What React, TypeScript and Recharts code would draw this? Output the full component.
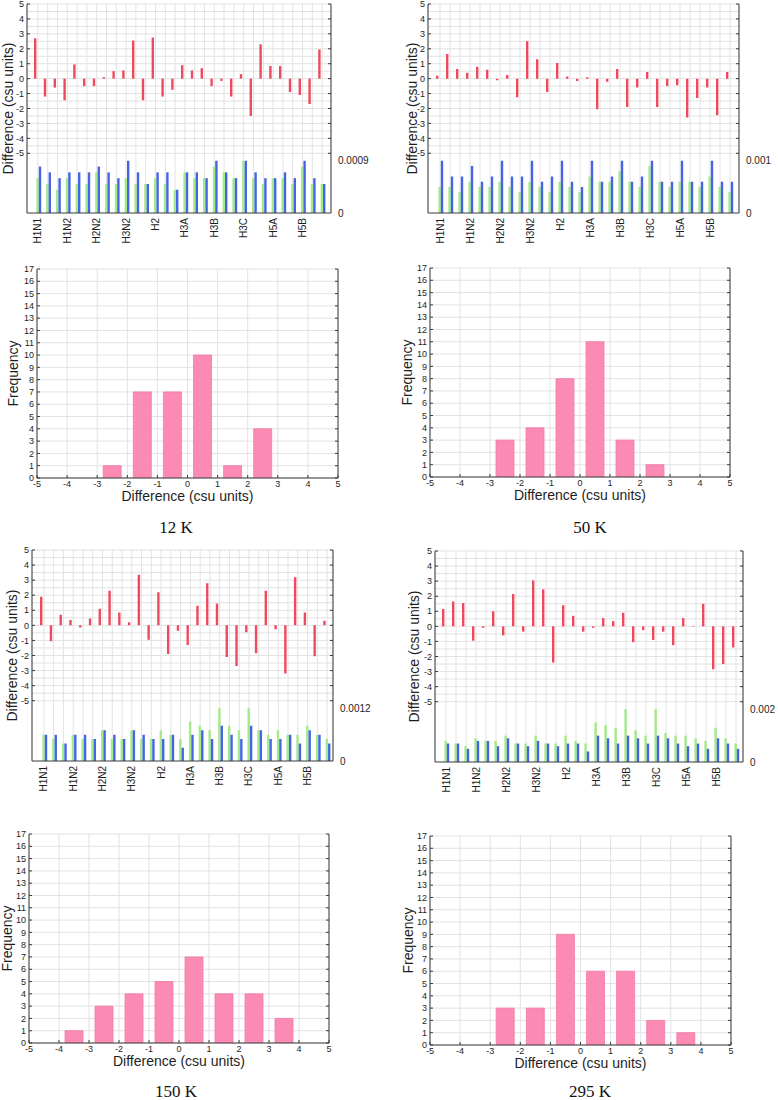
import React from 'react';
import { ComposedChart, BarChart, Bar, XAxis, YAxis, CartesianGrid } from 'recharts';

// ---------- data ----------
const siteLabels = [
  'H1N1', '', '', 'H1N2', '', '', 'H2N2', '', '', 'H3N2', '', '',
  'H2', '', '', 'H3A', '', '', 'H3B', '', '', 'H3C', '', '', 'H5A', '', '', 'H5B', '', '',
];

const diff12 = [2.7, -1.2, -0.6, -1.45, 0.95, -0.5, -0.5, 0.1, 0.5, 0.55, 2.55, -1.45, 2.75, -1.2, -0.75, 0.9, 0.55, 0.7, -0.5, -0.15, -1.2, 0.3, -2.5, 2.3, 0.85, 0.85, -0.9, -1.1, -1.7, 1.95];
const green12 = [6e-4, 5e-4, 4e-4, 6e-4, 5e-4, 5e-4, 7e-4, 5e-4, 5e-4, 6e-4, 5e-4, 5e-4, 6e-4, 5e-4, 4e-4, 7e-4, 6e-4, 6e-4, 8e-4, 7e-4, 6e-4, 9e-4, 6e-4, 5e-4, 6e-4, 6e-4, 5e-4, 8e-4, 5e-4, 5e-4];
const blue12 = [8e-4, 7e-4, 6e-4, 7e-4, 7e-4, 7e-4, 8e-4, 7e-4, 6e-4, 9e-4, 7e-4, 5e-4, 7e-4, 7e-4, 4e-4, 7e-4, 7e-4, 6e-4, 9e-4, 7e-4, 6e-4, 9e-4, 7e-4, 6e-4, 6e-4, 7e-4, 6e-4, 9e-4, 6e-4, 5e-4];

const diff50 = [0.2, 1.65, 0.65, 0.4, 0.8, 0.6, -0.1, 0.25, -1.25, 2.5, 1.3, -0.9, 1.05, 0.15, -0.15, 0.1, -2.05, -0.2, 0.65, -1.9, -0.6, 0.45, -1.9, -0.5, -0.45, -2.6, -1.3, -0.6, -2.45, 0.45];
const green50 = [5e-4, 5e-4, 4e-4, 6e-4, 5e-4, 5e-4, 6e-4, 5e-4, 4e-4, 6e-4, 5e-4, 4e-4, 6e-4, 5e-4, 4e-4, 7e-4, 6e-4, 6e-4, 8e-4, 6e-4, 5e-4, 9e-4, 6e-4, 5e-4, 6e-4, 6e-4, 5e-4, 7e-4, 5e-4, 4e-4];
const blue50 = [10e-4, 7e-4, 7e-4, 9e-4, 6e-4, 7e-4, 10e-4, 7e-4, 7e-4, 10e-4, 6e-4, 7e-4, 10e-4, 6e-4, 5e-4, 10e-4, 6e-4, 7e-4, 10e-4, 6e-4, 7e-4, 10e-4, 6e-4, 6e-4, 10e-4, 6e-4, 6e-4, 10e-4, 6e-4, 6e-4];

const diff150 = [1.9, -1.05, 0.7, 0.35, -0.15, 0.45, 1.1, 2.3, 0.85, 0.2, 3.35, -0.95, 2.2, -1.9, -0.35, -1.3, 1.3, 2.8, 1.45, -2.1, -2.7, -0.45, -1.85, 2.3, -0.25, -3.2, 3.2, 0.85, -2.05, 0.3];
const green150 = [6e-4, 5e-4, 4e-4, 6e-4, 5e-4, 5e-4, 7e-4, 5e-4, 5e-4, 7e-4, 5e-4, 5e-4, 7e-4, 6e-4, 5e-4, 9e-4, 8e-4, 7e-4, 12e-4, 8e-4, 7e-4, 12e-4, 7e-4, 6e-4, 7e-4, 6e-4, 6e-4, 8e-4, 6e-4, 5e-4];
const blue150 = [6e-4, 6e-4, 4e-4, 6e-4, 6e-4, 5e-4, 7e-4, 6e-4, 5e-4, 7e-4, 6e-4, 5e-4, 5e-4, 6e-4, 3e-4, 6e-4, 7e-4, 5e-4, 8e-4, 6e-4, 5e-4, 8e-4, 7e-4, 5e-4, 5e-4, 6e-4, 4e-4, 7e-4, 6e-4, 4e-4];

const diff295 = [1.15, 1.65, 1.55, -0.95, -0.1, 1.0, -0.6, 2.15, -0.35, 3.05, 2.45, -2.4, 1.4, 0.7, -0.35, -0.1, 0.55, 0.35, 0.9, -1.05, -0.25, -0.9, -0.35, -1.25, 0.55, 0.03, 1.5, -2.85, -2.5, -1.4];
const green295 = [8e-4, 7e-4, 6e-4, 9e-4, 8e-4, 8e-4, 10e-4, 7e-4, 7e-4, 10e-4, 7e-4, 7e-4, 10e-4, 8e-4, 7e-4, 15e-4, 14e-4, 13e-4, 20e-4, 12e-4, 10e-4, 20e-4, 11e-4, 10e-4, 10e-4, 9e-4, 8e-4, 13e-4, 9e-4, 7e-4];
const blue295 = [7e-4, 7e-4, 5e-4, 8e-4, 8e-4, 6e-4, 9e-4, 7e-4, 6e-4, 8e-4, 7e-4, 6e-4, 7e-4, 7e-4, 4e-4, 10e-4, 9e-4, 7e-4, 10e-4, 9e-4, 7e-4, 10e-4, 9e-4, 7e-4, 6e-4, 7e-4, 5e-4, 9e-4, 7e-4, 5e-4];

const binCenters = [-4.5, -3.5, -2.5, -1.5, -0.5, 0.5, 1.5, 2.5, 3.5, 4.5];
const hist12 = [0, 0, 1, 7, 7, 10, 1, 4, 0, 0];
const hist50 = [0, 0, 3, 4, 8, 11, 3, 1, 0, 0];
const hist150 = [0, 1, 3, 4, 5, 7, 4, 4, 2, 0];
const hist295 = [0, 0, 3, 3, 9, 6, 6, 2, 1, 0];

const diffTicks = [-5, -4, -3, -2, -1, 0, 1, 2, 3, 4, 5];
const gridTicks = [-5, -4.5, -4, -3.5, -3, -2.5, -2, -1.5, -1, -0.5, 0, 0.5, 1, 1.5, 2, 2.5, 3, 3.5, 4, 4.5, 5];
const histXTicks = [-5, -4, -3, -2, -1, 0, 1, 2, 3, 4, 5];
const freqTicks = [0, 1, 2, 3, 4, 5, 6, 7, 8, 9, 10, 11, 12, 13, 14, 15, 16, 17];

const captions = ['12 K', '50 K', '150 K', '295 K'];

// ---------- styles ----------
const FONT = '"Liberation Sans", Arial, Helvetica, sans-serif';
const SERIF = '"Liberation Serif", "Times New Roman", serif';
const AXIS = '#3a3a3a';
const GRID = '#e2e2e2';
const RED = '#ee4a5f';
const GREEN = '#a3ea88';
const BLUE = '#4565e6';
const PINK = '#fb8ab4';
const PINK_EDGE = '#f27aa6';
const TEXT = '#1e1e1e';

const EmptyTick = () => <g />;

function SiteTick(props: any) {
  const { x, y, payload } = props;
  const text = siteLabels[payload.value];
  if (!text) return <g />;
  return (
    <text
      x={x}
      y={y}
      transform={`rotate(-90, ${x}, ${y})`}
      textAnchor="end"
      dominantBaseline="central"
      fontSize={10}
      fill={TEXT}
      fontFamily={FONT}
    >
      {text}
    </text>
  );
}

type DiffLayout = {
  cx: number; cw: number; L: number; R: number; T: number; B: number;
  padL: number; padR: number; titleX: number;
};

function DiffPanel({ layout, diff, green, blue, rightTick }: { layout: DiffLayout; diff: number[]; green: number[]; blue: number[]; rightTick: number }) {
  const { cx, cw, L, R, T, B, padL, padR, titleX } = layout;
  const top = 6;
  const cy = T - top;
  const xAxisH = 40;
  const height = B - cy + xAxisH;
  const data = diff.map((d, i) => ({ idx: i, diff: d, green: green[i], blue: blue[i] }));
  const tx = titleX - cx;
  const ty = (T + B) / 2 - cy;
  const title = {
    content: () => (
      <text
        x={tx}
        y={ty}
        transform={`rotate(-90, ${tx}, ${ty})`}
        textAnchor="middle"
        dominantBaseline="central"
        fontSize={14}
        fill={TEXT}
        fontFamily={FONT}
      >
        Difference (csu units)
      </text>
    ),
  };
  return (
    <div style={{ position: 'absolute', left: cx, top: cy }}>
      <ComposedChart
        width={cw}
        height={height}
        data={data}
        margin={{ top, right: 0, bottom: 0, left: 0 }}
        barSize={2.4}
        barGap={0}
      >
        <CartesianGrid yAxisId="left" horizontalValues={gridTicks} stroke={GRID} strokeWidth={1} />
        <XAxis
          dataKey="idx"
          type="category"
          interval={0}
          height={xAxisH}
          padding={{ left: padL, right: padR }}
          tick={<SiteTick />}
          tickLine={false}
          tickSize={0}
          tickMargin={5}
          axisLine={{ stroke: AXIS }}
        />
        <XAxis
          xAxisId="top"
          dataKey="idx"
          type="category"
          orientation="top"
          mirror
          interval={0}
          height={0}
          padding={{ left: padL, right: padR }}
          tick={EmptyTick}
          tickSize={3}
          tickLine={{ stroke: AXIS }}
          axisLine={{ stroke: AXIS }}
        />
        <YAxis
          yAxisId="left"
          type="number"
          domain={[-9, 5]}
          ticks={diffTicks}
          interval={0}
          width={L - cx}
          tickSize={-3}
          tickMargin={6}
          tick={{ fontSize: 9, fill: TEXT, fontFamily: FONT }}
          tickLine={{ stroke: AXIS }}
          axisLine={{ stroke: AXIS }}
          allowDataOverflow
          label={title}
        />
        <YAxis
          yAxisId="leftMirror"
          orientation="right"
          mirror
          type="number"
          domain={[-9, 5]}
          ticks={diffTicks}
          interval={0}
          width={1}
          tick={EmptyTick}
          tickSize={3}
          tickLine={{ stroke: AXIS }}
          axisLine={false}
          allowDataOverflow
        />
        <YAxis
          yAxisId="right"
          orientation="right"
          type="number"
          domain={[0, rightTick * 4]}
          ticks={[0, rightTick]}
          interval={0}
          width={cx + cw - R}
          tickLine={false}
          tickSize={0}
          tickMargin={7}
          tick={{ fontSize: 10, fill: TEXT, fontFamily: FONT }}
          axisLine={{ stroke: AXIS }}
          allowDataOverflow
        />
        <Bar yAxisId="left" dataKey="diff" fill={RED} isAnimationActive={false} />
        <Bar yAxisId="right" dataKey="green" fill={GREEN} isAnimationActive={false} />
        <Bar yAxisId="right" dataKey="blue" fill={BLUE} isAnimationActive={false} />
      </ComposedChart>
    </div>
  );
}

type HistLayout = { cx: number; cw: number; L: number; R: number; T: number; B: number; fx: number };

function HistPanel({ layout, counts }: { layout: HistLayout; counts: number[] }) {
  const { cx, cw, L, R, T, B, fx } = layout;
  const top = 6;
  const cy = T - top;
  const xAxisH = 34;
  const height = B - cy + xAxisH;
  const data = binCenters.map((c, i) => ({ x: c, n: counts[i] }));
  const yx = fx - cx;
  const yy = (T + B) / 2 - cy;
  const yTitle = {
    content: () => (
      <text
        x={yx}
        y={yy}
        transform={`rotate(-90, ${yx}, ${yy})`}
        textAnchor="middle"
        dominantBaseline="central"
        fontSize={14}
        fill={TEXT}
        fontFamily={FONT}
      >
        Frequency
      </text>
    ),
  };
  const xTitle = {
    content: () => (
      <text
        x={(L + R) / 2 - cx}
        y={B + 18 - cy}
        textAnchor="middle"
        dominantBaseline="central"
        fontSize={14}
        fill={TEXT}
        fontFamily={FONT}
      >
        Difference (csu units)
      </text>
    ),
  };
  return (
    <div style={{ position: 'absolute', left: cx, top: cy }}>
      <BarChart
        width={cw}
        height={height}
        data={data}
        margin={{ top, right: cx + cw - R, bottom: 0, left: 0 }}
        barSize={18}
      >
        <CartesianGrid stroke={GRID} strokeWidth={1} />
        <XAxis
          dataKey="x"
          type="number"
          domain={[-5, 5]}
          ticks={histXTicks}
          interval={0}
          height={xAxisH}
          tickSize={-3}
          tickMargin={6}
          tick={{ fontSize: 9, fill: TEXT, fontFamily: FONT }}
          tickLine={{ stroke: AXIS }}
          axisLine={{ stroke: AXIS }}
          allowDataOverflow
          label={xTitle}
        />
        <XAxis
          xAxisId="top"
          type="number"
          orientation="top"
          mirror
          domain={[-5, 5]}
          ticks={histXTicks}
          interval={0}
          height={0}
          tick={EmptyTick}
          tickSize={3}
          tickLine={{ stroke: AXIS }}
          axisLine={{ stroke: AXIS }}
          allowDataOverflow
        />
        <YAxis
          type="number"
          domain={[0, 17]}
          ticks={freqTicks}
          interval={0}
          width={L - cx}
          tickSize={-3}
          tickMargin={6}
          tick={{ fontSize: 9, fill: TEXT, fontFamily: FONT }}
          tickLine={{ stroke: AXIS }}
          axisLine={{ stroke: AXIS }}
          allowDataOverflow
          label={yTitle}
        />
        <YAxis
          yAxisId="r"
          orientation="right"
          type="number"
          mirror
          domain={[0, 17]}
          ticks={freqTicks}
          interval={0}
          width={1}
          tick={EmptyTick}
          tickSize={3}
          tickLine={{ stroke: AXIS }}
          axisLine={{ stroke: AXIS }}
          allowDataOverflow
        />
        <Bar dataKey="n" fill={PINK} stroke={PINK_EDGE} strokeWidth={0.8} isAnimationActive={false} />
      </BarChart>
    </div>
  );
}

const diffLayouts: DiffLayout[] = [
  { cx: 0, cw: 380, L: 27, R: 331, T: 4, B: 213, padL: 6, padR: 4, titleX: 8 },
  { cx: 385, cw: 393, L: 428, R: 739, T: 4, B: 213, padL: 7, padR: 4, titleX: 412 },
  { cx: 0, cw: 380, L: 32, R: 333, T: 550, B: 761, padL: 7, padR: 1, titleX: 12 },
  { cx: 385, cw: 393, L: 435, R: 743, T: 551, B: 762, padL: 6, padR: 2, titleX: 414 },
];

const histLayouts: HistLayout[] = [
  { cx: 0, cw: 380, L: 37, R: 338, T: 269, B: 478, fx: 13 },
  { cx: 385, cw: 393, L: 430, R: 730, T: 268, B: 477, fx: 407 },
  { cx: 0, cw: 380, L: 29, R: 329, T: 834, B: 1043, fx: 7 },
  { cx: 385, cw: 393, L: 430, R: 731, T: 836, B: 1045, fx: 408 },
];

const captionPos = [
  { x: 176, y: 533 },
  { x: 590, y: 533 },
  { x: 176, y: 1097 },
  { x: 590, y: 1097 },
];

export default function App() {
  return (
    <div
      style={{
        position: 'absolute',
        left: 0,
        top: 0,
        width: 778,
        height: 1100,
        background: '#ffffff',
        fontFamily: FONT,
        overflow: 'hidden',
      }}
    >
      <DiffPanel layout={diffLayouts[0]} diff={diff12} green={green12} blue={blue12} rightTick={0.0009} />
      <DiffPanel layout={diffLayouts[1]} diff={diff50} green={green50} blue={blue50} rightTick={0.001} />
      <DiffPanel layout={diffLayouts[2]} diff={diff150} green={green150} blue={blue150} rightTick={0.0012} />
      <DiffPanel layout={diffLayouts[3]} diff={diff295} green={green295} blue={blue295} rightTick={0.002} />
      <HistPanel layout={histLayouts[0]} counts={hist12} />
      <HistPanel layout={histLayouts[1]} counts={hist50} />
      <HistPanel layout={histLayouts[2]} counts={hist150} />
      <HistPanel layout={histLayouts[3]} counts={hist295} />
      <svg width={778} height={1100} style={{ position: 'absolute', left: 0, top: 0, pointerEvents: 'none' }}>
        {captions.map((c, i) => (
          <text key={c} x={captionPos[i].x} y={captionPos[i].y} textAnchor="middle" fontSize={17} fontFamily={SERIF} fill="#111">
            {c}
          </text>
        ))}
      </svg>
    </div>
  );
}
